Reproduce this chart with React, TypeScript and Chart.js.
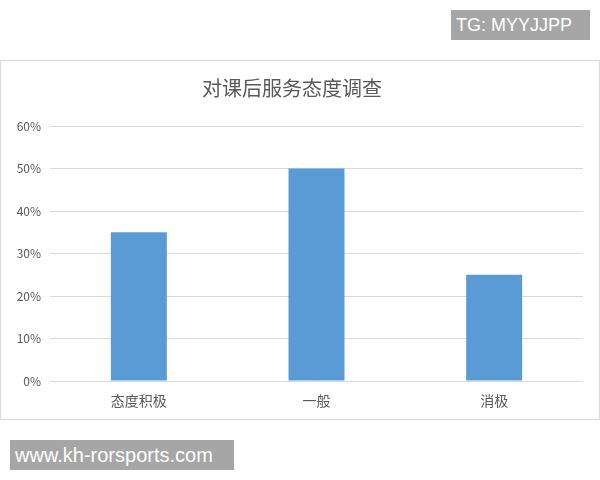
import React, { useEffect, useRef } from "react";
import { Chart, registerables } from "chart.js";

Chart.register(...registerables);

const title = "对课后服务态度调查";
const categories = ["态度积极", "一般", "消极"];
const values = [0.35, 0.5, 0.25];
const yTicks = [0, 0.1, 0.2, 0.3, 0.4, 0.5, 0.6];
const topMark = "TG: MYYJJPP";
const bottomMark = "www.kh-rorsports.com";

export default function App() {
  const ref = useRef<HTMLCanvasElement | null>(null);

  useEffect(() => {
    if (!ref.current) return;
    const chart = new Chart(ref.current, {
      type: "bar",
      data: {
        labels: categories,
        datasets: [
          {
            data: values,
            backgroundColor: "#5B9BD5",
            borderWidth: 0,
            barPercentage: 0.315,
            categoryPercentage: 1,
          },
        ],
      },
      options: {
        animation: false,
        responsive: false,
        maintainAspectRatio: false,
        layout: { padding: { left: 0, right: 16, top: 0, bottom: 0 } },
        plugins: {
          legend: { display: false },
          tooltip: { enabled: false },
          title: {
            display: true,
            text: title,
            color: "#595959",
            font: { family: "'Noto Sans CJK SC'", size: 20, weight: "normal" },
            padding: { top: 15, bottom: 26 },
          },
        },
        scales: {
          x: {
            grid: { display: false, drawTicks: false },
            border: { display: false },
            ticks: {
              color: "#595959",
              font: { family: "'Noto Sans CJK SC'", size: 14 },
              padding: 11,
            },
            afterFit: (s: any) => {
              s.height = 38;
            },
          },
          y: {
            min: 0,
            max: 0.6,
            grid: { color: "#D9D9D9", drawTicks: false, lineWidth: 1 },
            border: { display: false },
            afterBuildTicks: (s: any) => {
              s.ticks = yTicks.map((v) => ({ value: v }));
            },
            ticks: {
              color: "#595959",
              font: { family: "'Noto Sans CJK SC'", size: 12 },
              padding: 9,
              callback: (v: any) => Math.round(Number(v) * 100) + "%",
            },
            afterFit: (s: any) => {
              s.width = 49;
            },
          },
        },
      },
    });
    return () => chart.destroy();
  }, []);

  return (
    <div
      style={{
        position: "absolute",
        left: 0,
        top: 0,
        width: 600,
        height: 480,
        background: "#fff",
        overflow: "hidden",
      }}
    >
      <div
        style={{
          position: "absolute",
          left: 451,
          top: 10,
          width: 139,
          height: 30,
          background: "#A6A6A6",
          color: "#fff",
          font: "18px 'Liberation Sans', Arial, sans-serif",
          lineHeight: "30px",
          paddingLeft: 5,
          boxSizing: "border-box",
        }}
      >
        {topMark}
      </div>
      <div
        style={{
          position: "absolute",
          left: 0,
          top: 60,
          width: 600,
          height: 360,
          border: "1px solid #D9D9D9",
          boxSizing: "border-box",
        }}
      >
        <canvas ref={ref} width={598} height={358} style={{ display: "block" }} />
      </div>
      <div
        style={{
          position: "absolute",
          left: 10,
          top: 440,
          width: 224,
          height: 30,
          background: "#A6A6A6",
          color: "#fff",
          font: "20px 'Liberation Sans', Arial, sans-serif",
          lineHeight: "30px",
          paddingLeft: 5,
          boxSizing: "border-box",
        }}
      >
        {bottomMark}
      </div>
    </div>
  );
}
